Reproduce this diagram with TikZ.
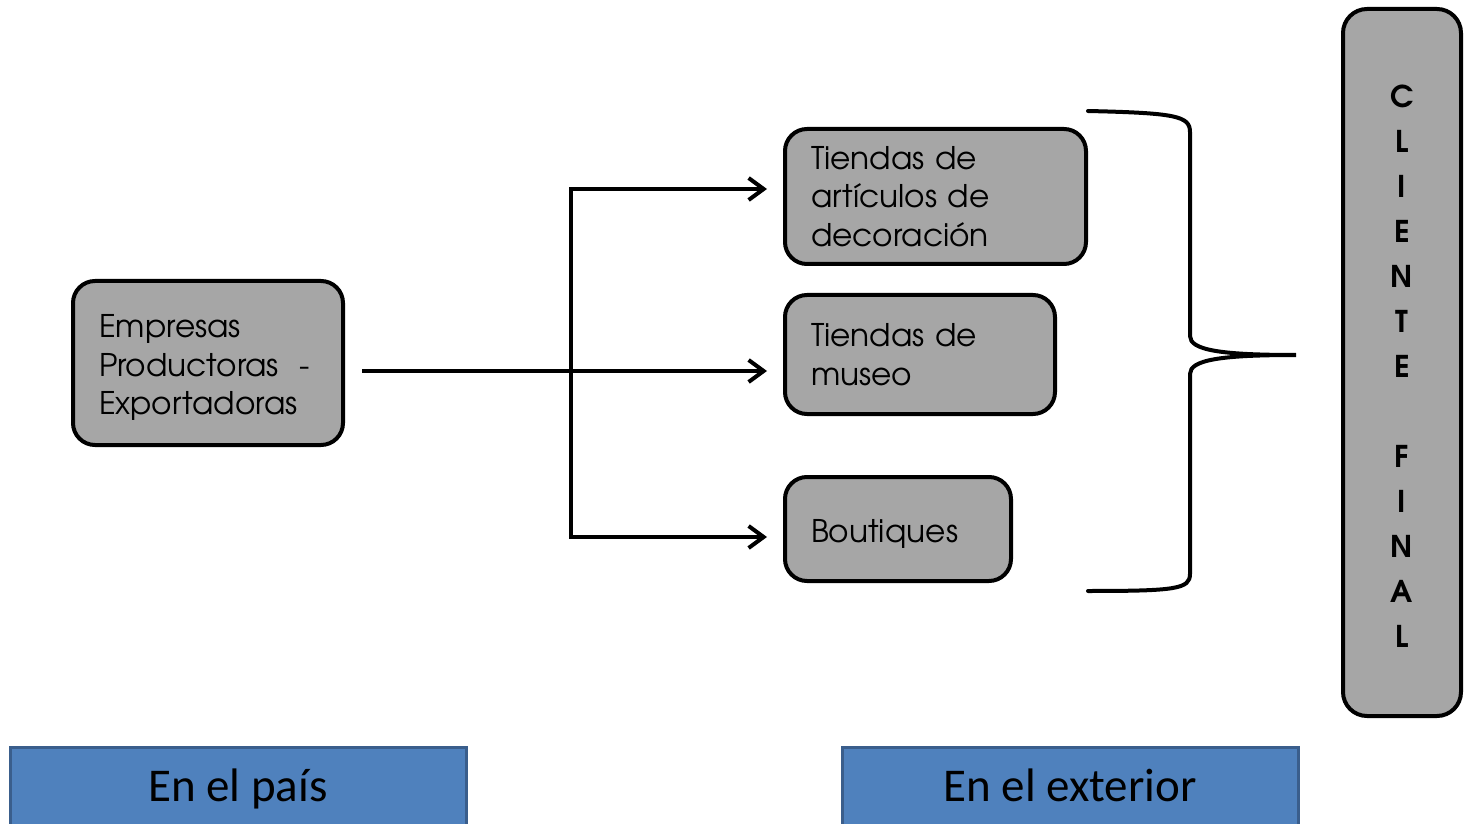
\documentclass[tikz,border=0pt]{standalone}
\usepackage{fontspec}
\usepackage{tikz}
\usetikzlibrary{positioning,arrows.meta}
\newfontfamily\gothic[BoldFont=texgyreadventor-bold.otf]{texgyreadventor-regular.otf}
\newfontfamily\calib{Carlito}
\definecolor{boxgray}{HTML}{A6A6A6}
\definecolor{tagblue}{HTML}{4F81BD}
\definecolor{tagedge}{HTML}{3A5E8C}
\newcommand{\topstrut}{\rule{0pt}{16pt}}
\tikzset{
  box/.style={
    draw, fill=boxgray, line width=2pt,
    rounded corners=11pt, align=left,
    inner xsep=13pt, inner ysep=0pt,
    font=\gothic\fontsize{15.6}{19.25}\selectfont
  },
  tag/.style={
    draw=tagedge, fill=tagblue, line width=1.5pt,
    minimum width=228pt, minimum height=41pt,
    text height=18.6pt, text depth=5pt,
    font=\calib\fontsize{23.5}{28}\selectfont
  },
  arr/.style={
    line width=2pt, -{Straight Barb[length=7.5pt,width=11pt]}
  }
}

\begin{document}
\begin{tikzpicture}[x=1pt,y=-1pt]
      \useasboundingbox (0,0) rectangle (732,412);

      \node [box, text width=109pt, minimum height=82pt] (Empresas) at (104,181.5)
      {\topstrut Empresas\\\mbox{Productoras~~-}\\Exportadoras};
      \node [box, text width=124.5pt, minimum height=67.5pt, anchor=west] (Deco) at (391.5,98.25)
      {Tiendas de\\art\'iculos de\\decoraci\'on};
      \node [box, text width=109pt, minimum height=59.5pt, below=13.5pt of Deco.south west, anchor=north west] (Museo)
      {Tiendas de\\museo};
      \node [box, text width=87pt, minimum height=52pt, below=29.5pt of Museo.south west, anchor=north west] (Shops)
      {\topstrut Boutiques};
      \node [box, rounded corners=12pt, minimum width=59pt, minimum height=353.5pt, align=center,
      inner xsep=0pt, font=\gothic\bfseries\fontsize{15}{22.5}\selectfont] (Client) at (701,181.25)
      {\rule{0pt}{15pt}C\\L\\I\\E\\N\\T\\E\\[22.5pt]F\\I\\N\\A\\L};

      \node [tag] (Pais) at (119,394) {En el pa\'is};
      \node [tag] (Exterior) at (535,394) {En el exterior};

      % flechas
      \coordinate (Fork) at (285.5,185.5);
      \coordinate (ForkTop) at (285.5,94.5);
      \coordinate (ForkBot) at (285.5,268.5);
      \draw [arr] ([xshift=8.5pt]Empresas.east |- Fork) -- ([xshift=-8pt]Museo.west |- Fork);
      \draw [arr, {Straight Barb[length=7.5pt,width=11pt]}-{Straight Barb[length=7.5pt,width=11pt]}]
      ([xshift=-8pt]Deco.west |- ForkTop) -- (ForkTop) -- (ForkBot) -- ([xshift=-8pt]Shops.west |- ForkBot);

      % llave
      \coordinate (BraceTop) at ([xshift=0pt,yshift=8pt]Deco.north east);
      \coordinate (BraceTip) at ([xshift=-22.5pt]Client.west |- 0,177.5);
      \coordinate (BraceBot) at (BraceTop |- 0,295.5);
      \draw [line width=2pt, line cap=round]
      (BraceTop) .. controls (588,56.5) and (595,58) .. (595,66)
      -- (595,168) .. controls (595,175) and (610,177.5) .. (BraceTip)
      .. controls (610,177.5) and (595,180) .. (595,187)
      -- (595,287) .. controls (595,294.5) and (588,295.5) .. (BraceBot);
\end{tikzpicture}
\end{document}
